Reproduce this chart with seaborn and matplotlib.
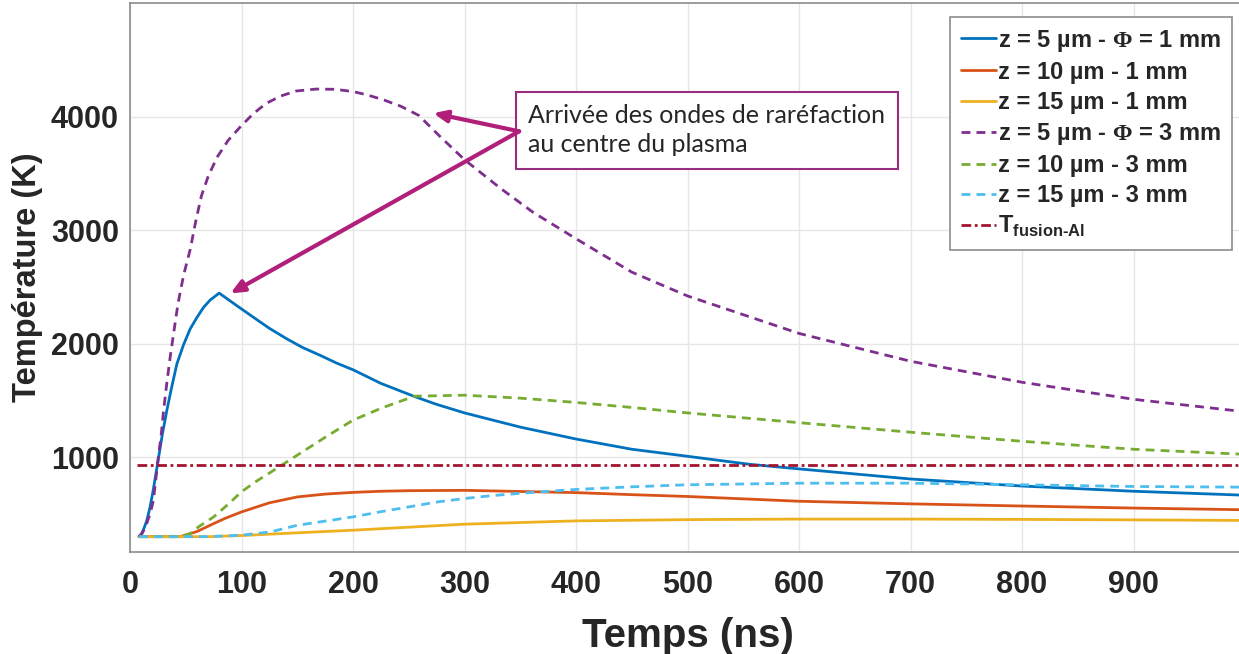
import pandas as pd
import matplotlib
matplotlib.use('Agg')
import matplotlib.pyplot as plt
import seaborn as sns

# Temperature traces (time in ns, temperature in K)
t_z5_d1 = [8, 10, 12, 15, 18, 21, 25, 29, 33, 37, 42, 48, 54, 60, 66, 72, 80, 95, 111, 125, 141, 155, 171,
           185, 200, 225, 255, 275, 300, 350, 400, 450, 500, 555, 600, 700, 800, 900, 1000]
T_z5_d1 = [300, 320, 360, 440, 560, 720, 960, 1200, 1410, 1600, 1820, 1990, 2130, 2230, 2320, 2385, 2445,
           2340, 2230, 2135, 2040, 1965, 1895, 1830, 1770, 1650, 1535, 1465, 1390, 1265, 1160, 1070, 1008,
           938, 897, 808, 746, 700, 665]

t_z10_d1 = [8, 45, 60, 75, 85, 100, 125, 150, 175, 200, 225, 250, 300, 400, 450, 500, 600, 700, 800, 900, 1000]
T_z10_d1 = [300, 300, 345, 415, 460, 518, 598, 650, 675, 690, 700, 705, 708, 688, 670, 654, 612, 589, 570, 552, 537]

t_z15_d1 = [8, 70, 100, 150, 200, 300, 400, 500, 600, 700, 800, 900, 1000]
T_z15_d1 = [300, 300, 310, 334, 357, 410, 439, 450, 455, 455, 452, 448, 443]

t_z5_d3 = [8, 11, 14, 18, 21, 25.4, 28, 30, 33, 36, 40, 43, 48, 54, 59, 64, 70, 78, 88, 99, 110, 122, 135, 149,
           167, 184, 200, 213, 228, 243, 259, 278, 300, 332, 361, 399, 450, 500, 600, 700, 800, 900, 1000]
T_z5_d3 = [300, 330, 390, 500, 620, 1000, 1200, 1400, 1650, 1880, 2150, 2350, 2600, 2830, 3080, 3300, 3470,
           3640, 3790, 3910, 4020, 4115, 4180, 4225, 4242, 4240, 4220, 4190, 4145, 4090, 4010, 3825, 3620,
           3370, 3160, 2930, 2630, 2420, 2090, 1845, 1660, 1510, 1400]

t_z10_d3 = [8, 45, 54, 62, 75, 88, 100, 112, 125, 150, 175, 200, 225, 255, 300, 350, 400, 450, 500, 600, 700,
            800, 900, 1000]
T_z10_d3 = [300, 300, 327, 390, 474, 585, 695, 780, 860, 1018, 1175, 1326, 1430, 1537, 1546, 1520, 1482, 1438,
            1390, 1304, 1220, 1140, 1070, 1025]

t_z15_d3 = [8, 70, 100, 126, 150, 200, 225, 250, 275, 300, 325, 350, 400, 450, 500, 600, 700, 800, 900, 1000]
T_z15_d3 = [300, 300, 313, 342, 400, 474, 520, 562, 605, 636, 662, 682, 716, 739, 757, 771, 771, 757, 742, 736]

t_fusion = [6, 1000]
T_fusion = [933, 933]

labels = ['z = 5 µm - $\\Phi$ = 1 mm', 'z = 10 µm - 1 mm', 'z = 15 µm - 1 mm',
          'z = 5 µm - $\\Phi$ = 3 mm', 'z = 10 µm - 3 mm', 'z = 15 µm - 3 mm',
          '$\\mathbf{T}_{\\mathbf{fusion\u2010Al}}$']
colors = ['#0072BD', '#D95319', '#EDB120', '#7E2F8E', '#77AC30', '#4DBEEE', '#A2142F']
dash_codes = ['', '', '', (3.2, 2.2), (3.2, 2.2), (3.2, 2.2), (3.5, 1.3, 1, 1.3)]

x_ticks = [0, 100, 200, 300, 400, 500, 600, 700, 800, 900]
y_ticks = [1000, 2000, 3000, 4000]

series = [(t_z5_d1, T_z5_d1), (t_z10_d1, T_z10_d1), (t_z15_d1, T_z15_d1),
          (t_z5_d3, T_z5_d3), (t_z10_d3, T_z10_d3), (t_z15_d3, T_z15_d3),
          (t_fusion, T_fusion)]

rows = []
for lab, (ts, Ts) in zip(labels, series):
    for t, T in zip(ts, Ts):
        rows.append({'Temps': t, 'Temperature': T, 'Serie': lab})
df = pd.DataFrame(rows)

sns.set_style('white')
plt.rcParams['font.family'] = ['Liberation Sans', 'DejaVu Sans']
plt.rcParams['mathtext.fontset'] = 'custom'
plt.rcParams['mathtext.rm'] = 'Liberation Serif:bold'
plt.rcParams['mathtext.bf'] = 'Liberation Sans:bold'

fig = plt.figure(figsize=(12.39, 6.54), dpi=100)
ax = fig.add_axes([130 / 1239, 102 / 654, 1115 / 1239, 549 / 654])

sns.lineplot(data=df, x='Temps', y='Temperature', hue='Serie', style='Serie',
             palette=dict(zip(labels, colors)), dashes=dict(zip(labels, dash_codes)),
             hue_order=labels, style_order=labels, estimator=None, sort=True,
             linewidth=2, ax=ax)

ax.set_xlim(0, 1000)
ax.set_ylim(165, 5000)
ax.set_xticks(x_ticks)
ax.set_yticks(y_ticks)
ax.grid(True, color='#e6e6e6', linewidth=1)
ax.tick_params(direction='in', length=7, color='#7f7f7f', labelsize=22, width=1)
ax.tick_params(axis='x', pad=13)
ax.tick_params(axis='y', pad=8)
for lbl in ax.get_xticklabels() + ax.get_yticklabels():
    lbl.set_fontweight('bold')
    lbl.set_color('#262626')
for sp in ax.spines.values():
    sp.set_color('#8c8c8c')
    sp.set_linewidth(1.2)

ax.set_xlabel('Temps (ns)', fontsize=29, fontweight='bold', color='#262626', labelpad=12)
ax.set_ylabel('Température (K)', fontsize=23.5, fontweight='bold', color='#262626', labelpad=6)

# Annotation box and arrows
arrow_col = '#B0207A'
ax.text(357, 3880, 'Arrivée des ondes de raréfaction\nau centre du plasma',
        fontsize=18, family=['Lato', 'DejaVu Sans'], va='center', ha='left', linespacing=1.3,
        bbox=dict(boxstyle='square,pad=0.5', facecolor='white', edgecolor='#9B2D7F', linewidth=1.5))
ax.annotate('', xy=(272, 4030), xytext=(349, 3870),
            arrowprops=dict(arrowstyle='-|>,head_length=0.8,head_width=0.35', lw=3,
                            color=arrow_col, shrinkA=0, shrinkB=0))
ax.annotate('', xy=(90, 2442), xytext=(349, 3870),
            arrowprops=dict(arrowstyle='-|>,head_length=0.8,head_width=0.35', lw=3,
                            color=arrow_col, shrinkA=0, shrinkB=0))

handles, labs = ax.get_legend_handles_labels()
leg = ax.legend(handles, labs, loc='upper right', bbox_to_anchor=(1232 / 1239, 1 - 17 / 654),
                bbox_transform=fig.transFigure, prop={'weight': 'bold', 'size': 17},
                frameon=True, fancybox=False, framealpha=1, edgecolor='#8c8c8c',
                handlelength=1.5, handletextpad=0.1, labelspacing=0.3, borderpad=0.45,
                borderaxespad=0)
leg.get_frame().set_linewidth(1.2)

plt.savefig('out.png', dpi=100)
